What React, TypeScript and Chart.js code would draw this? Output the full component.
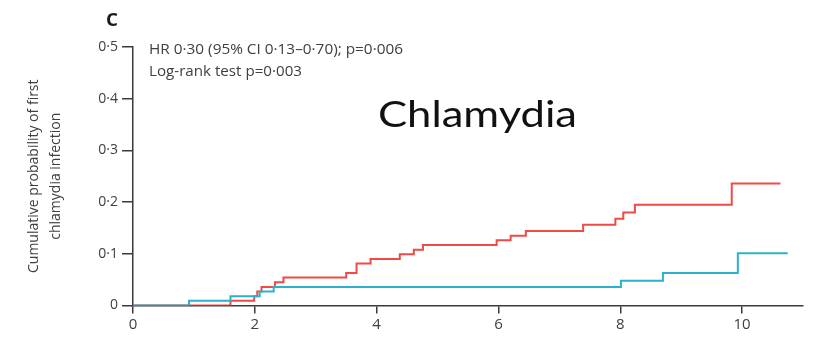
import React, { useEffect, useRef } from "react";
import { Chart, registerables } from "chart.js";

Chart.register(...registerables);

// Kaplan–Meier step data: [time (years), cumulative probability]
const redTimes = [0, 1.6, 1.99, 2.04, 2.11, 2.33, 2.47, 3.5, 3.67, 3.9, 4.38, 4.61, 4.76, 5.97, 6.2, 6.45, 7.39, 7.92, 8.05, 8.24, 9.83, 10.63];
const redValues = [0, 0.009, 0.018, 0.027, 0.036, 0.045, 0.054, 0.063, 0.081, 0.09, 0.099, 0.108, 0.117, 0.126, 0.135, 0.144, 0.156, 0.168, 0.18, 0.195, 0.236, 0.236];

const blueTimes = [0, 0.92, 1.6, 2.08, 2.31, 8.01, 8.7, 9.93, 10.75];
const blueValues = [0, 0.009, 0.018, 0.027, 0.036, 0.048, 0.063, 0.101, 0.101];

const xTicks = [0, 2, 4, 6, 8, 10];
const xTickLabels = ["0", "2", "4", "6", "8", "10"];
const yTicks = [0, 0.1, 0.2, 0.3, 0.4, 0.5];
const yTickLabels = ["0", "0·1", "0·2", "0·3", "0·4", "0·5"];

const panelLetter = "C";
const statLine1 = "HR 0·30 (95% CI 0·13–0·70); p=0·006";
const statLine2 = "Log-rank test p=0·003";
const bigLabel = "Chlamydia";
const yTitle = ["Cumulative probability of first", "chlamydia infection"];

const RED = "#ef4a45";
const BLUE = "#2cb1cd";
const AXIS = "#3a3a3a";
const TEXT = "#404040";
const FONT = "'Liberation Sans Narrow', 'Open Sans', sans-serif";

function fitText(ctx: CanvasRenderingContext2D, text: string, x: number, y: number, font: string, width: number, color: string) {
  ctx.save();
  ctx.font = font;
  ctx.fillStyle = color;
  ctx.textBaseline = "alphabetic";
  ctx.textAlign = "left";
  const w = ctx.measureText(text).width;
  const s = w > 0 ? width / w : 1;
  ctx.translate(x, y);
  ctx.scale(s, 1);
  ctx.fillText(text, 0, 0);
  ctx.restore();
}

const textPlugin = {
  id: "annotText",
  afterDraw(chart: any) {
    const ctx = chart.ctx as CanvasRenderingContext2D;
    fitText(ctx, panelLetter, 106, 26, "bold 18px 'Open Sans', sans-serif", 12, "#1a1a1a");
    fitText(ctx, statLine1, 149, 54, `15px ${FONT}`, 254, TEXT);
    fitText(ctx, statLine2, 149, 76, `15px ${FONT}`, 153, TEXT);
    fitText(ctx, bigLabel, 378, 127, "36px Lato, 'Open Sans', sans-serif", 199, "#111");
  },
};

export default function App() {
  const ref = useRef<HTMLCanvasElement>(null);
  useEffect(() => {
    document.body.style.margin = "0";
    const canvas = ref.current!;
    const toPts = (t: number[], v: number[]) => t.map((x, i) => ({ x, y: v[i] }));
    const chart = new Chart(canvas, {
      type: "line",
      data: {
        datasets: [
          {
            label: "Blue",
            data: toPts(blueTimes, blueValues),
            borderColor: BLUE,
            borderWidth: 2,
            pointRadius: 0,
            stepped: "before",
            fill: false,
            order: 0,
          },
          {
            label: "Red",
            data: toPts(redTimes, redValues),
            borderColor: RED,
            borderWidth: 2,
            pointRadius: 0,
            stepped: "before",
            fill: false,
            order: 1,
          },
        ],
      },
      options: {
        animation: false,
        responsive: false,
        maintainAspectRatio: false,
        devicePixelRatio: 1,
        layout: { padding: { top: 47, right: 24, left: 0, bottom: 0 } },
        plugins: { legend: { display: false }, tooltip: { enabled: false } },
        scales: {
          x: {
            type: "linear",
            min: 0,
            max: 11,
            afterFit: (s: any) => {
              s.height = 34.5;
            },
            afterBuildTicks: (s: any) => {
              s.ticks = xTicks.map((v) => ({ value: v }));
            },
            ticks: {
              callback: (_v: any, i: number) => xTickLabels[i],
              font: { family: FONT, size: 15 },
              color: TEXT,
              padding: 2,
              maxRotation: 0,
            },
            grid: { drawOnChartArea: false, tickLength: 8, color: AXIS, lineWidth: 1.5 },
            border: { color: AXIS, width: 1.5 },
          },
          y: {
            type: "linear",
            min: 0,
            max: 0.5,
            afterFit: (s: any) => {
              s.width = 133;
            },
            afterBuildTicks: (s: any) => {
              s.ticks = yTicks.map((v) => ({ value: v }));
            },
            ticks: {
              callback: (_v: any, i: number) => yTickLabels[i],
              font: { family: FONT, size: 14 },
              color: TEXT,
              padding: 4,
            },
            grid: { drawOnChartArea: false, tickLength: 11, color: AXIS, lineWidth: 1.5 },
            border: { color: AXIS, width: 1.5 },
            title: {
              display: true,
              text: yTitle,
              font: { family: FONT, size: 14, lineHeight: 1.55 },
              color: TEXT,
              padding: { top: 23, bottom: 0 },
            },
          },
        },
      },
      plugins: [textPlugin],
    });
    return () => chart.destroy();
  }, []);
  return (
    <div style={{ position: "absolute", left: 0, top: 0, width: 827, height: 340 }}>
      <canvas ref={ref} width={827} height={340} style={{ width: 827, height: 340 }} />
    </div>
  );
}
